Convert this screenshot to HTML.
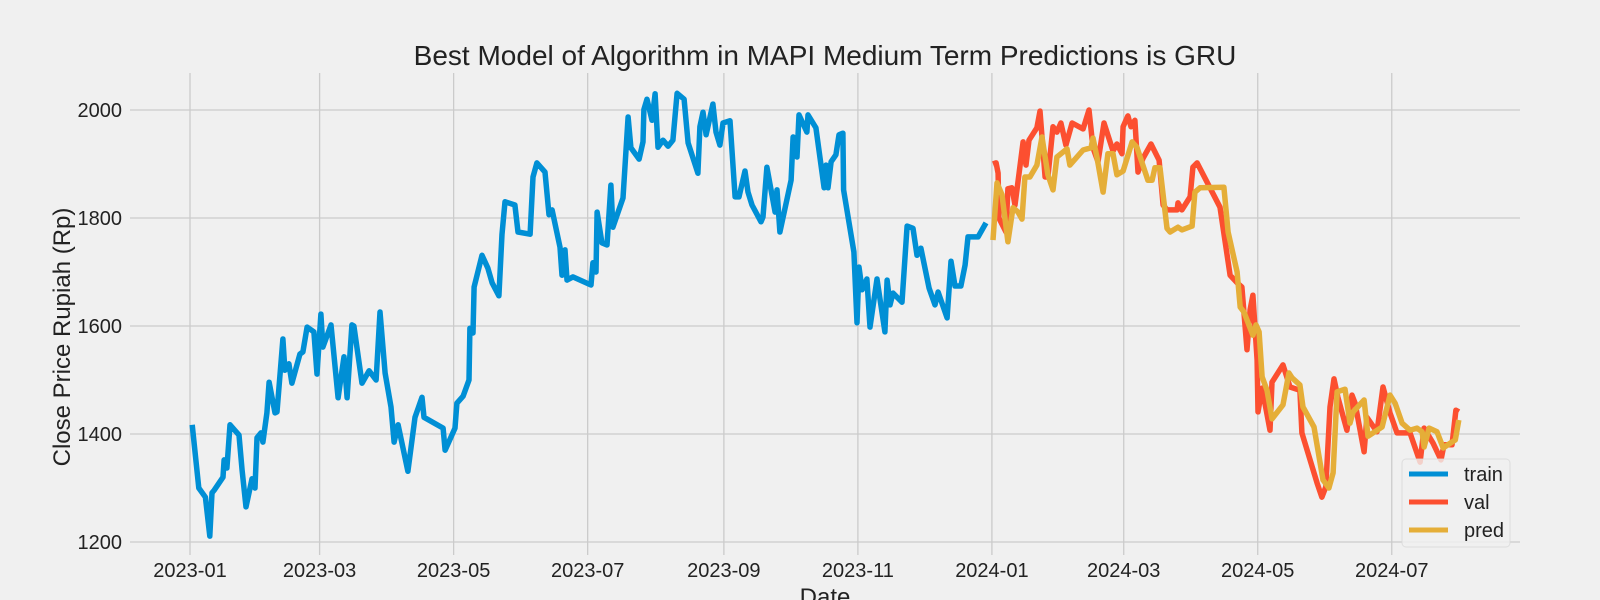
<!DOCTYPE html>
<html><head><meta charset="utf-8">
<style>
html,body{margin:0;padding:0;background:#f0f0f0;}
svg{display:block;font-family:"Liberation Sans",sans-serif;}
</style></head>
<body>
<svg id="chart" width="1600" height="600" viewBox="0 0 1600 600">
<rect width="1600" height="600" fill="#f0f0f0"/>
<g id="grid"></g>
<g id="ticks"></g>
<g id="series"></g>
<text x="825" y="65" text-anchor="middle" font-size="28" fill="#222">Best Model of Algorithm in MAPI Medium Term Predictions is GRU</text>
<text transform="translate(70,337) rotate(-90)" text-anchor="middle" font-size="24" fill="#222">Close Price Rupiah (Rp)</text>
<text x="825" y="605" text-anchor="middle" font-size="24" fill="#222">Date</text>
<g id="legend">
  <rect x="1402" y="459" width="108" height="88" rx="4" fill="#f0f0f0" fill-opacity="0.8" stroke="#d8d8d8" stroke-opacity="0.8"/>
  <line x1="1409" y1="474" x2="1448" y2="474" stroke="#008fd5" stroke-width="5"/>
  <text x="1464" y="481" font-size="20" fill="#222">train</text>
  <line x1="1409" y1="502" x2="1448" y2="502" stroke="#fc4f30" stroke-width="5"/>
  <text x="1464" y="509" font-size="20" fill="#222">val</text>
  <line x1="1409" y1="530" x2="1448" y2="530" stroke="#e5ae38" stroke-width="5"/>
  <text x="1464" y="537" font-size="20" fill="#222">pred</text>
</g>
</svg>
<script>
// days since 2023-01-01
const trainDays=[1,4,7,9,10,11,15,15.5,16.8,18.2,22.3,23.7,25.5,28.2,29.6,30.5,32.3,33.2,35,36,38.7,39.6,42.3,43.2,45,46.4,50,51.4,53.3,56.4,57.8,59.6,60.5,64.2,67.4,70.1,71.5,73.7,74.6,78.3,81.5,84.7,86.5,88.8,91.5,92.9,94.7,99.2,102.4,105.6,106.5,115.2,116.1,120.6,121.5,124.3,127,127.4,128.8,129.3,132.9,135.6,137.5,140.6,142,143.4,147.9,149.3,154.8,156.1,157.9,161.6,163.4,164.8,168.4,169.3,170.7,171.6,174.3,182.5,183.4,184.8,185.3,187.5,189.8,191.6,192.5,197.1,199.4,200.7,204.4,206.2,206.6,208,210.3,211.7,213,215.3,217.6,219.8,221.7,224.9,226.7,231.2,232.1,233.5,234.9,238,239.4,241.2,242.6,245.8,248.1,249.9,252.6,254,255.8,259.9,260.8,262.6,266.3,267.2,268.5,273.6,274.5,276.3,277.2,280.8,281.3,284.9,288.6,289.5,290.4,291.8,294,295.4,297.2,297.5,302.2,303.6,304.5,305.9,308.1,309.5,312.7,316.3,317.3,318.6,320,324.1,326.4,329.1,330.9,332.7,336.4,339.1,340.5,344.6,346.4,348.2,350.9,352.8,354.1,358.7,362.3];
const trainVals=[1417,1300,1283,1211,1291,1296,1320,1352,1337,1417,1398,1333,1265,1317,1300,1393,1402,1385,1439,1496,1439,1441,1576,1518,1530,1494,1548,1552,1598,1589,1511,1622,1561,1602,1467,1543,1467,1602,1600,1494,1517,1500,1626,1513,1450,1385,1417,1331,1431,1468,1431,1411,1370,1411,1457,1470,1500,1596,1587,1672,1731,1707,1680,1656,1770,1830,1824,1774,1770,1876,1902,1885,1806,1815,1746,1694,1741,1685,1691,1676,1717,1700,1811,1754,1750,1861,1783,1837,1987,1930,1909,1941,2001,2020,1981,2030,1931,1944,1933,1944,2031,2020,1939,1883,1969,1996,1954,2011,1959,1935,1976,1980,1839,1839,1887,1848,1824,1793,1802,1894,1811,1852,1774,1870,1950,1913,1991,1959,1991,1967,1856,1898,1856,1904,1917,1954,1957,1852,1737,1606,1709,1667,1687,1598,1687,1589,1685,1639,1661,1644,1785,1781,1731,1744,1670,1639,1663,1615,1720,1674,1674,1713,1765,1765,1791];
const valDays=[365.5,366.9,367.8,368.2,371.4,372.3,374.1,375.5,379.2,380.5,381.9,385.5,386.9,389.2,390.5,392.8,394.6,396.4,398.7,401.5,406.5,409.2,411,413.3,416,420.1,421.9,424.2,424.7,426.9,428.3,430.1,431.5,433.8,437.4,441.1,442.9,444.7,449.3,449.7,451.5,455.2,456.5,458.4,468.8,473.4,476.6,478.8,481.1,482.5,483.8,485.7,486.1,488,491.6,492.5,497.5,500.7,505.2,506.1,513,515.2,517,518.9,520.7,522.5,526.6,528.9,530.3,534.4,535.7,540.3,543,546.2,549.4,555.3,559.9,561.7,565.8,569.4,570.8,574.4,576.2,577.5];
const valVals=[1900,1902,1883,1800,1774,1854,1856,1824,1941,1898,1944,1967,1998,1876,1876,1969,1959,1976,1935,1976,1965,2000,1930,1904,1976,1924,1937,1919,1969,1989,1969,1981,1885,1911,1937,1907,1824,1815,1815,1828,1815,1839,1894,1902,1820,1694,1680,1672,1556,1630,1657,1537,1441,1485,1407,1496,1528,1487,1481,1402,1309,1283,1302,1450,1502,1468,1407,1472,1457,1367,1431,1404,1487,1439,1402,1402,1348,1411,1383,1352,1380,1380,1444,1441];
const predDays=[365.5,367.3,369.6,372.3,374.6,376.9,378.7,380,382.3,385.5,387.8,390.5,392.8,394.6,399.2,400.5,406.5,410.1,411,412.8,415.6,417.8,420.1,421.9,424.7,428.8,431,436,437.9,439.2,441.5,444.7,446.1,449.7,451.5,456.1,457.4,459.7,470.6,472.5,476.6,478,479.7,483.8,485.2,486.6,488,490.2,492.5,497.5,500.2,501.6,505.2,506.6,511.6,515.7,518.4,520.3,522.1,525.7,528,529.4,534.4,536.2,542.6,546.2,548.5,551.7,555.3,558.5,560.8,561.7,564,567.6,570.4,573.6,575.9,577.5];
const predVals=[1759,1865,1843,1756,1819,1811,1798,1876,1876,1898,1950,1880,1852,1913,1928,1898,1926,1930,1948,1913,1848,1919,1919,1880,1887,1941,1931,1870,1870,1893,1893,1781,1774,1783,1778,1785,1848,1856,1857,1774,1700,1635,1626,1583,1602,1589,1506,1481,1428,1454,1513,1504,1491,1450,1413,1315,1300,1328,1478,1483,1420,1441,1463,1396,1413,1472,1457,1420,1407,1411,1404,1376,1411,1404,1374,1383,1389,1426];
const yTicks=[1200,1400,1600,1800,2000];
const xTickLabels=["2023-01","2023-03","2023-05","2023-07","2023-09","2023-11","2024-01","2024-03","2024-05","2024-07"];
const xTickDays=[0,59,120,181,243,304,365,425,486,547];

const PL=130,PR=1520,PT=73,PB=555;
function xs(d){return 190+d*2.197;}
function ys(v){return 110+(2000-v)*0.54;}
const NS="http://www.w3.org/2000/svg";
const grid=document.getElementById('grid'),ticks=document.getElementById('ticks'),series=document.getElementById('series');
yTicks.forEach(v=>{
  const l=document.createElementNS(NS,'line');
  l.setAttribute('x1',PL);l.setAttribute('x2',PR);l.setAttribute('y1',ys(v));l.setAttribute('y2',ys(v));
  l.setAttribute('stroke','#cbcbcb');l.setAttribute('stroke-width','1.3');
  
  
  grid.appendChild(l);
  const t=document.createElementNS(NS,'text');
  t.setAttribute('x',122);t.setAttribute('y',ys(v)+7);t.setAttribute('text-anchor','end');
  t.setAttribute('font-size','20');t.setAttribute('fill','#222');t.textContent=v;
  
  
  ticks.appendChild(t);
});
xTickDays.forEach((d,i)=>{
  const l=document.createElementNS(NS,'line');
  l.setAttribute('x1',xs(d));l.setAttribute('x2',xs(d));l.setAttribute('y1',PT);l.setAttribute('y2',PB);
  l.setAttribute('stroke','#cbcbcb');l.setAttribute('stroke-width','1.3');
  
  
  grid.appendChild(l);
  const t=document.createElementNS(NS,'text');
  t.setAttribute('x',xs(d));t.setAttribute('y',577);t.setAttribute('text-anchor','middle');
  t.setAttribute('font-size','20');t.setAttribute('fill','#222');t.textContent=xTickLabels[i];
  
  
  ticks.appendChild(t);
});
function drawLine(days,vals,color,name){
  const p=document.createElementNS(NS,'polyline');
  p.setAttribute('points',days.map((d,i)=>xs(d).toFixed(1)+','+ys(vals[i]).toFixed(1)).join(' '));
  p.setAttribute('fill','none');p.setAttribute('stroke',color);p.setAttribute('stroke-width','5.5');
  p.setAttribute('stroke-linejoin','round');
  
  
  series.appendChild(p);
}
drawLine(trainDays,trainVals,'#008fd5','train-line');
drawLine(valDays,valVals,'#fc4f30','val-line');
drawLine(predDays,predVals,'#e5ae38','pred-line');
</script>
</body></html>
